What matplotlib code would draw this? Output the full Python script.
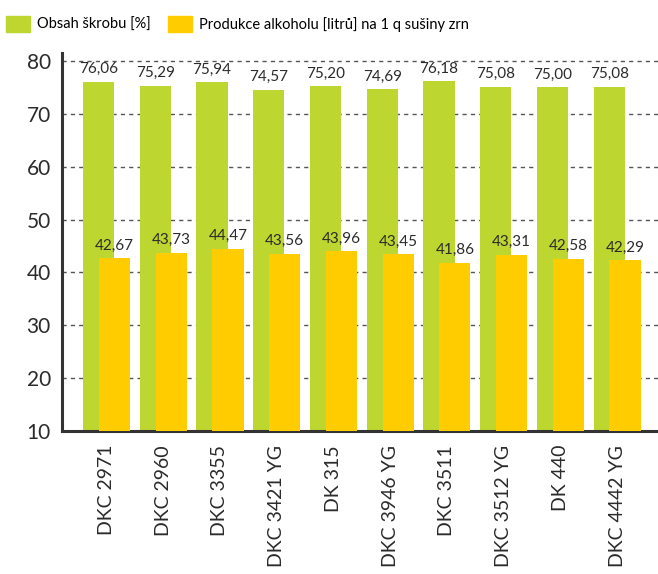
import numpy as np
import matplotlib.pyplot as plt
from matplotlib.patches import Patch

# hybrid names and measured values
hybrids = ['DKC 2971', 'DKC 2960', 'DKC 3355', 'DKC 3421 YG', 'DK 315',
           'DKC 3946 YG', 'DKC 3511', 'DKC 3512 YG', 'DK 440', 'DKC 4442 YG']
starch = [76.06, 75.29, 75.94, 74.57, 75.20, 74.69, 76.18, 75.08, 75.00, 75.08]
alcohol = [42.67, 43.73, 44.47, 43.56, 43.96, 43.45, 41.86, 43.31, 42.58, 42.29]

green = '#bed630'
yellow = '#ffcc00'
txt = '#2b2b2b'

plt.rcParams['font.family'] = ['Lato', 'DejaVu Sans']

fig = plt.figure(figsize=(6.58, 5.74), dpi=100)
ax = fig.add_axes([0.0942, 0.249, 0.9058, 0.6587])

x = np.arange(len(hybrids))
w = 0.55
off = 0.14
ax.bar(x - off, starch, width=w, color=green, zorder=2)
ax.bar(x + off, alcohol, width=w, color=yellow, zorder=3)

def fmt(v):
    return f'{v:.2f}'.replace('.', ',')

for i in range(len(hybrids)):
    ax.annotate(fmt(starch[i]), (x[i] - off, starch[i]), xytext=(0, 4),
                textcoords='offset points', ha='center', va='bottom',
                fontsize=11, color=txt, zorder=4)
    ax.annotate(fmt(alcohol[i]), (x[i] + off, alcohol[i]), xytext=(0, 4),
                textcoords='offset points', ha='center', va='bottom',
                fontsize=11, color=txt, zorder=4)

ax.set_ylim(10, 81.5)
ax.set_xlim(-0.785, 9.72)
ax.set_yticks(range(10, 81, 10))
ax.set_xticks(x)
ax.set_xticklabels(hybrids, rotation=90, fontsize=14, color=txt)
ax.tick_params(axis='y', labelsize=15, colors=txt, length=0, pad=8)
ax.tick_params(axis='x', length=0, pad=10)

ax.grid(axis='y', linestyle=(0, (3, 3)), color='#555555', linewidth=1, zorder=1)
for s in ['top', 'right']:
    ax.spines[s].set_visible(False)
for s in ['left', 'bottom']:
    ax.spines[s].set_color('#333333')
    ax.spines[s].set_linewidth(2.2)

handles = [Patch(color=green, label='Obsah škrobu [%]'),
           Patch(color=yellow, label='Produkce alkoholu [litrů] na 1 q sušiny zrn')]
fig.legend(handles=handles, loc='upper left', bbox_to_anchor=(-0.006, 0.99), ncol=2,
           frameon=False, fontsize=10.5, handlelength=1.65, handleheight=1.35,
           handletextpad=0.45, columnspacing=1.2, borderaxespad=0.3)

fig.savefig('out.png', dpi=100)
